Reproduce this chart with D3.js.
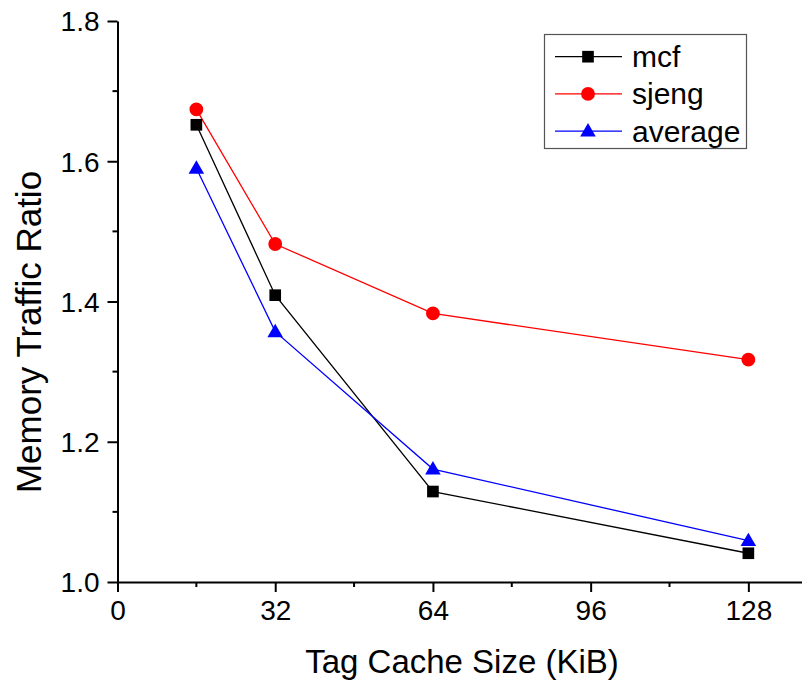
<!DOCTYPE html>
<html>
<head>
<meta charset="utf-8">
<script src="https://cdn.jsdelivr.net/npm/d3@7"></script>
<style>
  body { margin: 0; background: #fff; }
  text { font-family: "Liberation Sans", Arial, sans-serif; fill: #000; }
</style>
</head>
<body>
<div id="chart"></div>
<script>
// data
var cacheSizes = [16, 32, 64, 128];
var mcf = [1.652, 1.409, 1.129, 1.041];
var sjeng = [1.674, 1.482, 1.383, 1.317];
var average = [1.590, 1.357, 1.161, 1.059];
var seriesNames = ["mcf", "sjeng", "average"];
var xTicks = [0, 32, 64, 96, 128];
var xMinorTicks = [16, 48, 80, 112];
var yTicks = [1.0, 1.2, 1.4, 1.6, 1.8];
var yMinorTicks = [1.1, 1.3, 1.5, 1.7];

var width = 802, height = 682;

var svg = d3.select("#chart")
  .append("svg")
  .attr("width", width)
  .attr("height", height);

// scales
var x = d3.scaleLinear().domain([0, 140]).range([117.5, 807.5]);
var y = d3.scaleLinear().domain([1.0, 1.8]).range([582, 21]);

var series = [
  { name: seriesNames[0], values: mcf, color: "#000000", shape: "square" },
  { name: seriesNames[1], values: sjeng, color: "#ff0000", shape: "circle" },
  { name: seriesNames[2], values: average, color: "#0000ff", shape: "triangle" }
];

var symbols = {
  square: d3.symbol().type(d3.symbolSquare).size(136),
  circle: d3.symbol().type(d3.symbolCircle).size(150),
  triangle: d3.symbol().type(d3.symbolTriangle).size(105)
};

// axes
var xAxis = d3.axisBottom(x).tickValues(xTicks).tickSize(10).tickSizeOuter(0).tickPadding(8);
var yAxis = d3.axisLeft(y).tickValues(yTicks).tickSize(10).tickSizeOuter(0).tickPadding(8)
  .tickFormat(d3.format(".1f"));

var gx = svg.append("g")
  .attr("transform", "translate(0,582)")
  .call(xAxis);
gx.selectAll(".minor")
  .data(xMinorTicks)
  .enter().append("line")
  .attr("class", "minor")
  .attr("x1", function(d) { return x(d); })
  .attr("x2", function(d) { return x(d); })
  .attr("y1", 0).attr("y2", 5)
  .attr("stroke", "#000").attr("stroke-width", 2);

var gy = svg.append("g")
  .attr("transform", "translate(117.5,0)")
  .call(yAxis);
gy.selectAll(".minor")
  .data(yMinorTicks)
  .enter().append("line")
  .attr("class", "minor")
  .attr("y1", function(d) { return y(d); })
  .attr("y2", function(d) { return y(d); })
  .attr("x1", 0).attr("x2", -5)
  .attr("stroke", "#000").attr("stroke-width", 2);

svg.selectAll(".domain").attr("stroke", "#000").attr("stroke-width", 2);
svg.selectAll(".tick line").attr("stroke", "#000").attr("stroke-width", 2);
svg.selectAll(".tick text")
  .style("font-size", "28px")
  .style("font-family", "'Liberation Sans', Arial, sans-serif");
gy.selectAll(".tick text").attr("dy", "0.35em");
gx.selectAll(".tick text").attr("dy", "0.71em");

// axis titles
svg.append("text")
  .attr("x", 462)
  .attr("y", 673)
  .attr("text-anchor", "middle")
  .style("font-size", "33px")
  .text("Tag Cache Size (KiB)");

svg.append("text")
  .attr("transform", "translate(41,332) rotate(-90)")
  .attr("text-anchor", "middle")
  .style("font-size", "35px")
  .text("Memory Traffic Ratio");

// lines and markers
var line = d3.line()
  .x(function(d, i) { return x(cacheSizes[i]); })
  .y(function(d) { return y(d); });

series.forEach(function(s) {
  svg.append("path")
    .datum(s.values)
    .attr("d", line)
    .attr("fill", "none")
    .attr("stroke", s.color)
    .attr("stroke-width", 1.3);
});

series.forEach(function(s) {
  svg.selectAll(".pt-" + s.name)
    .data(s.values)
    .enter().append("path")
    .attr("class", "pt-" + s.name)
    .attr("transform", function(d, i) {
      var dy = s.shape === "triangle" ? 1 : 0;
      return "translate(" + x(cacheSizes[i]) + "," + (y(d) + dy) + ")";
    })
    .attr("d", symbols[s.shape])
    .attr("fill", s.color);
});

// legend
var legend = svg.append("g").attr("transform", "translate(544,34)");
legend.append("rect")
  .attr("x", 0.5).attr("y", 0.5)
  .attr("width", 202).attr("height", 114)
  .attr("fill", "#fff")
  .attr("stroke", "#555")
  .attr("stroke-width", 1.2);

var items = legend.selectAll(".item")
  .data(series)
  .enter().append("g")
  .attr("class", "item")
  .attr("transform", function(d, i) { return "translate(0," + (22.7 + i * 37.2) + ")"; });

items.append("line")
  .attr("x1", 11).attr("x2", 78)
  .attr("y1", 0).attr("y2", 0)
  .attr("stroke", function(d) { return d.color; })
  .attr("stroke-width", 1.3);
items.append("path")
  .attr("transform", function(d) { return "translate(44," + (d.shape === "triangle" ? 1 : 0) + ")"; })
  .attr("d", function(d) { return symbols[d.shape](); })
  .attr("fill", function(d) { return d.color; });
items.append("text")
  .attr("x", 88)
  .attr("y", 0)
  .attr("dy", "0.35em")
  .style("font-size", "30px")
  .text(function(d) { return d.name; });
</script>
</body>
</html>
